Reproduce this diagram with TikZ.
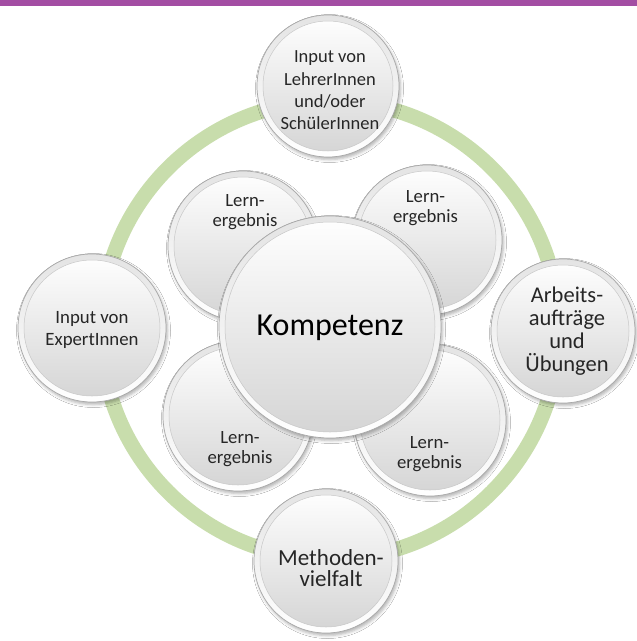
\documentclass[tikz,border=0pt]{standalone}
\usepackage{fontspec}
\setmainfont{Carlito}
\usetikzlibrary{shadows.blur}

\definecolor{barpurple}{RGB}{163,77,163}
\definecolor{ringgreen}{RGB}{200,221,172}
\definecolor{rimline}{RGB}{168,168,168}
\definecolor{rimtop}{RGB}{228,228,228}
\definecolor{faceline}{RGB}{200,200,200}
\definecolor{facelow}{RGB}{212,212,212}
\definecolor{inkgray}{RGB}{38,38,38}

\tikzset{
  % glossy bead: outer bevel rim plus shaded inner face
  bubble/.style={circle, inner sep=0pt, minimum size={2*#1pt},
    draw=rimline, line width=0.7pt,
    top color=rimtop, bottom color=white,
    blur shadow={shadow xshift=1.5pt, shadow yshift=-2.5pt,
                 shadow blur radius=3pt, shadow opacity=30},
    path picture={\draw[faceline, line width=0.5pt, top color=white, bottom color=facelow]
      (path picture bounding box.center) circle[radius={#1pt-6pt}];}},
  bubbletext/.style 2 args={font={\fontsize{#1pt}{#2pt}\selectfont},
    text=inkgray, align=center, inner sep=0pt},
  ring/.style={draw=ringgreen, line width=15pt}
}

\begin{document}
\begin{tikzpicture}[x=1pt,y=-1pt]
  \fill[white] (0,0) rectangle (637,641);
  \useasboundingbox (0,0) rectangle (637,641);
  \fill[barpurple] (0,0) rectangle (637,6);

  % cycle ring behind the outer beads
  \coordinate (hub) at (330,330);
  \path[ring] (hub) circle[radius=229pt];

  % outer beads
  \node[bubble=71] (top) at (328,86) {};
  \node[bubble=74] (left) at (92,328) {};
  \node[bubble=72] (right) at (563,331) {};
  \node[bubble=72] (bottom) at (326,561) {};

  % learning outcomes around the core
  \node[bubble=75] (lern1) at (243,246) {};
  \node[bubble=75] (lern2) at (427,240) {};
  \node[bubble=75] (lern3) at (238,416) {};
  \node[bubble=76] (lern4) at (430,420) {};

  % core
  \node[bubble=111] (core) at (330,327) {};

  % labels
  \node[bubbletext={18.5}{22.3}] (toptext) at (330,90.5)
    {Input von\\LehrerInnen\\und/oder\\SchülerInnen};
  \node[bubbletext={18.8}{22.6}] (lefttext) at (92,330)
    {Input von\\ExpertInnen};
  \node[bubbletext={22.5}{23.2}] (righttext) at (567,331)
    {Arbeits-\\aufträge\\und\\Übungen};
  \node[bubbletext={23}{21.7}] (bottomtext) at (331,568)
    {Methoden-\\vielfalt};

  \node[bubbletext={18.7}{20}] (lern1text) at (245,212.5) {Lern-\\ergebnis};
  \node[bubbletext={18.7}{20}] (lern2text) at (425.5,208) {Lern-\\ergebnis};
  \node[bubbletext={18.7}{20}] (lern3text) at (240,449) {Lern-\\ergebnis};
  \node[bubbletext={18.7}{20}] (lern4text) at (429.5,454) {Lern-\\ergebnis};

  \node[bubbletext={32}{38}, text=black] (coretext) at (330,328) {Kompetenz};
\end{tikzpicture}
\end{document}
